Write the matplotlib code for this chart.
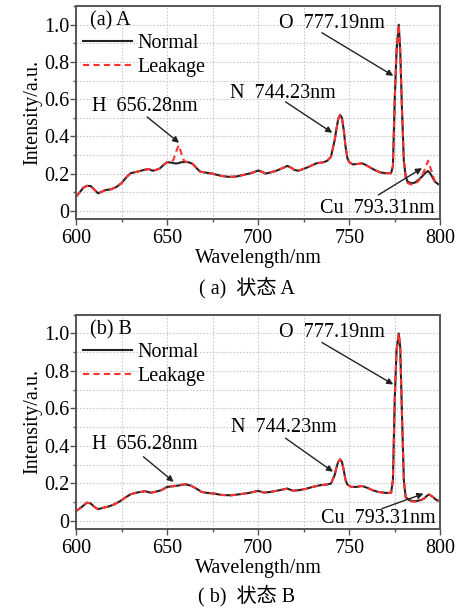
import matplotlib
matplotlib.use("Agg")
import matplotlib.pyplot as plt
from matplotlib.ticker import MultipleLocator, FuncFormatter

plt.rcParams['font.family'] = ['Liberation Serif', 'Noto Sans CJK SC']
plt.rcParams['mathtext.fontset'] = 'stix'

# ---- panel A data ----
wl_a = [600, 602, 604, 606, 608, 610, 612, 614, 616, 619, 622, 625, 628, 630,
        634, 638, 640, 642, 644, 646, 648, 650, 652, 653.5, 655, 656.3, 657.5,
        659, 660, 662, 664, 666, 668, 670, 675, 680, 684, 688, 692, 696, 700,
        702, 704, 706, 710, 714, 716, 718, 720, 722, 725, 728, 732, 736, 738,
        740, 742, 743, 744, 745, 746, 747, 748, 749, 750, 752, 755, 757, 759,
        761, 764, 767, 770, 773, 774, 775, 776, 777.2, 778, 779, 780, 781, 782,
        784, 786, 788, 790, 792, 793.3, 795, 797, 799, 800]
normal_a = [0.077, 0.100, 0.125, 0.135, 0.134, 0.115, 0.095, 0.103, 0.112, 0.116,
            0.128, 0.150, 0.185, 0.203, 0.212, 0.222, 0.225, 0.216, 0.221, 0.228,
            0.247, 0.262, 0.260, 0.257, 0.255, 0.257, 0.261, 0.263, 0.263, 0.261,
            0.253, 0.232, 0.212, 0.208, 0.200, 0.188, 0.183, 0.185, 0.194, 0.203,
            0.217, 0.211, 0.201, 0.205, 0.216, 0.233, 0.242, 0.233, 0.220, 0.216,
            0.226, 0.238, 0.256, 0.262, 0.270, 0.292, 0.380, 0.440, 0.495, 0.516,
            0.500, 0.435, 0.345, 0.283, 0.262, 0.250, 0.253, 0.256, 0.248, 0.236,
            0.220, 0.207, 0.203, 0.203, 0.240, 0.600, 0.860, 1.000, 0.865, 0.540,
            0.270, 0.185, 0.158, 0.149, 0.152, 0.167, 0.185, 0.206, 0.215, 0.194,
            0.158, 0.143, 0.143]
leak_a = [0.077, 0.100, 0.125, 0.135, 0.134, 0.115, 0.095, 0.103, 0.112, 0.116,
          0.128, 0.150, 0.185, 0.203, 0.212, 0.222, 0.225, 0.216, 0.221, 0.228,
          0.247, 0.262, 0.262, 0.275, 0.320, 0.352, 0.320, 0.275, 0.265, 0.261,
          0.253, 0.232, 0.212, 0.208, 0.200, 0.188, 0.183, 0.185, 0.194, 0.203,
          0.217, 0.211, 0.201, 0.205, 0.216, 0.233, 0.242, 0.233, 0.220, 0.216,
          0.226, 0.238, 0.256, 0.262, 0.270, 0.292, 0.380, 0.440, 0.495, 0.516,
          0.500, 0.435, 0.345, 0.283, 0.262, 0.250, 0.253, 0.256, 0.248, 0.236,
          0.220, 0.207, 0.203, 0.203, 0.240, 0.600, 0.860, 1.000, 0.865, 0.540,
          0.270, 0.180, 0.150, 0.142, 0.145, 0.160, 0.190, 0.235, 0.270, 0.220,
          0.160, 0.143, 0.143]

# ---- panel B data ----
wl_b = [600, 603, 606, 608, 610, 612, 615, 618, 621, 624, 627, 630, 634, 638,
        641, 644, 647, 650, 654, 657, 660, 663, 666, 669, 672, 676, 680, 685,
        690, 695, 700, 703, 706, 710, 714, 716, 719, 722, 726, 730, 734, 738,
        740, 742, 743, 744, 745, 746, 747, 748, 749, 751, 754, 757, 760, 763,
        766, 770, 773, 774, 775, 776, 777.2, 778, 779, 780, 781, 783, 786, 789,
        791, 793, 794, 796, 798, 800]
normal_b = [0.052, 0.073, 0.097, 0.093, 0.075, 0.062, 0.070, 0.077, 0.088, 0.104,
            0.124, 0.142, 0.152, 0.158, 0.150, 0.156, 0.164, 0.181, 0.185, 0.190,
            0.195, 0.188, 0.172, 0.154, 0.149, 0.145, 0.138, 0.136, 0.142, 0.149,
            0.160, 0.151, 0.153, 0.160, 0.168, 0.172, 0.161, 0.163, 0.170, 0.181,
            0.190, 0.194, 0.199, 0.244, 0.285, 0.315, 0.328, 0.315, 0.270, 0.217,
            0.194, 0.181, 0.181, 0.186, 0.176, 0.163, 0.154, 0.149, 0.149, 0.217,
            0.647, 0.910, 1.000, 0.930, 0.560, 0.217, 0.127, 0.110, 0.104, 0.110,
            0.118, 0.136, 0.140, 0.127, 0.110, 0.106]
leak_b = [0.052, 0.073, 0.097, 0.093, 0.075, 0.062, 0.070, 0.077, 0.088, 0.104,
          0.124, 0.142, 0.152, 0.158, 0.150, 0.156, 0.164, 0.181, 0.187, 0.192,
          0.195, 0.188, 0.172, 0.154, 0.149, 0.145, 0.138, 0.136, 0.142, 0.149,
          0.160, 0.151, 0.153, 0.160, 0.168, 0.172, 0.161, 0.163, 0.170, 0.181,
          0.190, 0.194, 0.199, 0.244, 0.285, 0.315, 0.328, 0.315, 0.270, 0.217,
          0.194, 0.181, 0.181, 0.186, 0.176, 0.163, 0.154, 0.149, 0.149, 0.217,
          0.647, 0.910, 1.000, 0.930, 0.560, 0.217, 0.122, 0.105, 0.102, 0.108,
          0.118, 0.136, 0.140, 0.127, 0.110, 0.106]

# annotation texts with (text pos, arrow tail, arrow tip)
labels = ["H  656.28nm", "N  744.23nm", "O  777.19nm", "Cu  793.31nm"]
notes_a = [((608.5, 0.56), (639, 0.505), (656.6, 0.366)),
           ((684.5, 0.63), (715, 0.586), (740.7, 0.42)),
           ((711.5, 1.005), (735, 0.957), (774.2, 0.726)),
           ((734.0, 0.015), (766, 0.086), (790.0, 0.23))]
notes_b = [((608.5, 0.41), (637, 0.342), (653.6, 0.208)),
           ((685.0, 0.50), (715, 0.441), (741.1, 0.262)),
           ((711.5, 1.005), (735, 0.952), (774.2, 0.728)),
           ((734.5, 0.011), (768, 0.065), (790.8, 0.145))]

FS = 14.5
fig = plt.figure(figsize=(4.61, 6.10), dpi=100)


def draw(ax, wl, normal, leak, notes, tag, caption):
    ax.plot(wl, normal, color='#222222', lw=1.5, label='Normal')
    ax.plot(wl, leak, color='#ff3333', lw=1.5, ls=(0, (3, 2)), label='Leakage')
    ax.set_xlim(600, 800)
    ax.set_ylim(-0.043, 1.10)
    ax.xaxis.set_major_locator(MultipleLocator(50))
    ax.xaxis.set_minor_locator(MultipleLocator(25))
    ax.yaxis.set_major_locator(MultipleLocator(0.2))
    ax.yaxis.set_minor_locator(MultipleLocator(0.1))
    ax.yaxis.set_major_formatter(FuncFormatter(lambda v, p: '0' if abs(v) < 1e-9 else '%.1f' % v))
    ax.grid(True, which='both', color='#c8c8c8', ls=(0, (1.5, 1.5)), lw=0.8)
    ax.set_axisbelow(True)
    for s in ax.spines.values():
        s.set_color('#555555')
        s.set_linewidth(1.4)
    ax.tick_params(which='major', direction='out', length=4, width=1, colors='#555555',
                   labelcolor='black', labelsize=FS, pad=1)
    ax.tick_params(axis='x', which='major', pad=3)
    ax.tick_params(which='minor', direction='out', length=2.5, width=1, colors='#555555')
    ax.set_xlabel('Wavelength/nm', fontsize=FS, labelpad=1)
    ax.set_ylabel('Intensity/a.u.', fontsize=FS, labelpad=1)
    ax.text(607.7, 1.022, tag, fontsize=FS, va='center', ha='left')
    ax.legend(loc='upper left', bbox_to_anchor=(0.02, 0.87), frameon=False,
              fontsize=FS, handlelength=2.4, handletextpad=0.3, labelspacing=0.25,
              borderpad=0, borderaxespad=0)
    for txt, (tpos, tail, tip) in zip(labels, notes):
        ax.text(tpos[0], tpos[1], txt, fontsize=FS, va='center', ha='left')
        ax.annotate('', xy=tip, xytext=tail,
                    arrowprops=dict(arrowstyle='-|>', color='#222222', lw=1.0,
                                    mutation_scale=9, shrinkA=0, shrinkB=0))
    fig.text(0.535, caption[1], caption[0], fontsize=14.5, ha='center', va='center')


ax1 = fig.add_axes([0.165, 0.641, 0.790, 0.349])
draw(ax1, wl_a, normal_a, leak_a, notes_a, '(a) A', ('( a)  状态 A', 1 - 288 / 610))
ax2 = fig.add_axes([0.165, 0.133, 0.790, 0.351])
draw(ax2, wl_b, normal_b, leak_b, notes_b, '(b) B', ('( b)  状态 B', 1 - 596 / 610))

fig.savefig('out.png', dpi=100)
